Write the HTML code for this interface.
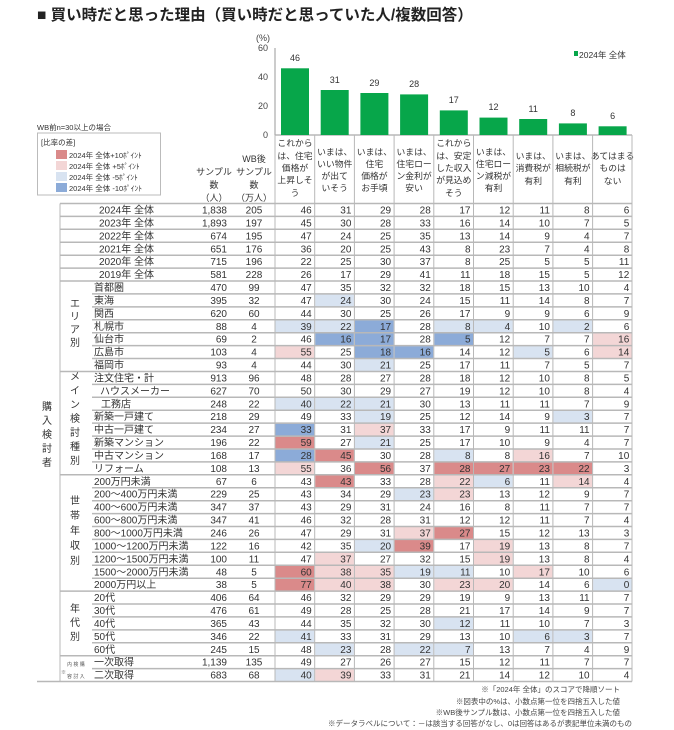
<!DOCTYPE html>
<html><head><meta charset="utf-8"><style>
html,body{margin:0;padding:0;background:#fff;}
svg{display:block;font-family:"Liberation Sans","Noto Sans CJK JP",sans-serif;}
</style></head><body>
<svg width="674" height="730" viewBox="0 0 674 730" xmlns="http://www.w3.org/2000/svg">
<text x="37" y="20" font-size="15.5" font-weight="bold" fill="#222">■ 買い時だと思った理由（買い時だと思っていた人/複数回答）</text>

<!-- axis -->
<g font-size="9" fill="#444" text-anchor="end">
<text x="270" y="41">(%)</text>
<text x="268" y="51">60</text>
<text x="268" y="80">40</text>
<text x="268" y="109">20</text>
<text x="268" y="138">0</text>
</g>
<line x1="275" y1="48" x2="275" y2="135" stroke="#999" stroke-width="1"/>
<line x1="275" y1="135" x2="632" y2="135" stroke="#aaa" stroke-width="1.2"/>
<rect x="574" y="51" width="4" height="5" fill="#07a64a"/>
<text x="579" y="58" font-size="8.5" fill="#333">2024年 全体</text>

<!-- bars -->
<g fill="#07a64a">
<rect x="281" y="68.3" width="28" height="66.7"/>
<rect x="320.7" y="90" width="28" height="45"/>
<rect x="360.4" y="93" width="28" height="42"/>
<rect x="400.1" y="94.4" width="28" height="40.6"/>
<rect x="439.8" y="110.4" width="28" height="24.6"/>
<rect x="479.5" y="117.6" width="28" height="17.4"/>
<rect x="519.2" y="119" width="28" height="16"/>
<rect x="558.9" y="123.4" width="28" height="11.6"/>
<rect x="598.6" y="126.3" width="28" height="8.7"/>
</g>
<g font-size="9" fill="#333" text-anchor="middle">
<text x="295" y="61">46</text><text x="334.7" y="83">31</text><text x="374.4" y="86">29</text>
<text x="414.1" y="87">28</text><text x="453.8" y="103">17</text><text x="493.5" y="110">12</text>
<text x="533.2" y="112">11</text><text x="572.9" y="116">8</text><text x="612.6" y="119">6</text>
</g>

<!-- legend box -->
<text x="37" y="130" font-size="7.5" fill="#333">WB前n=30以上の場合</text>
<rect x="37.5" y="133" width="123" height="62" fill="#fff" stroke="#bbb" stroke-width="1"/>
<g font-size="7.5" fill="#333">
<text x="41" y="145">[比率の差]</text>
<rect x="56" y="150" width="11" height="9" fill="#da8a8a"/><text x="69" y="158">2024年 全体+10ﾎﾟｲﾝﾄ</text>
<rect x="56" y="161" width="11" height="9" fill="#f3d6d6"/><text x="69" y="169">2024年 全体 +5ﾎﾟｲﾝﾄ</text>
<rect x="56" y="172" width="11" height="9" fill="#d8e3f1"/><text x="69" y="180">2024年 全体 -5ﾎﾟｲﾝﾄ</text>
<rect x="56" y="183" width="11" height="9" fill="#8cabd8"/><text x="69" y="191">2024年 全体 -10ﾎﾟｲﾝﾄ</text>
</g>

<!-- header labels -->
<g font-size="9" fill="#333" text-anchor="middle">
<text x="214" y="175">サンプル</text><text x="214" y="188">数</text><text x="214" y="201">（人）</text>
<text x="254" y="162">WB後</text><text x="254" y="175">サンプル</text><text x="254" y="188">数</text><text x="254" y="201">（万人）</text>
<g font-size="8.8">
<text x="295" y="146">これから</text><text x="295" y="159">は、住宅</text><text x="295" y="171">価格が</text><text x="295" y="183">上昇しそ</text><text x="295" y="196">う</text>
<text x="334.7" y="155">いまは、</text><text x="334.7" y="167">いい物件</text><text x="334.7" y="179">が出て</text><text x="334.7" y="191">いそう</text>
<text x="374.4" y="155">いまは、</text><text x="374.4" y="167">住宅</text><text x="374.4" y="179">価格が</text><text x="374.4" y="191">お手頃</text>
<text x="414.1" y="155">いまは、</text><text x="414.1" y="167">住宅ロー</text><text x="414.1" y="179">ン金利が</text><text x="414.1" y="191">安い</text>
<text x="453.8" y="146">これから</text><text x="453.8" y="159">は、安定</text><text x="453.8" y="171">した収入</text><text x="453.8" y="183">が見込め</text><text x="453.8" y="196">そう</text>
<text x="493.5" y="155">いまは、</text><text x="493.5" y="167">住宅ロー</text><text x="493.5" y="179">ン減税が</text><text x="493.5" y="191">有利</text>
<text x="533.2" y="159">いまは、</text><text x="533.2" y="171">消費税が</text><text x="533.2" y="184">有利</text>
<text x="572.9" y="159">いまは、</text><text x="572.9" y="171">相続税が</text><text x="572.9" y="184">有利</text>
<text x="612.6" y="159">あてはまる</text><text x="612.6" y="171">ものは</text><text x="612.6" y="184">ない</text>
</g>
</g>

<!-- color cells -->
<g>
<rect x="315.2" y="294.4" width="38.7" height="12.9" fill="#d8e3f1"/>
<rect x="275.5" y="320.3" width="38.7" height="12.9" fill="#d8e3f1"/>
<rect x="315.2" y="320.3" width="38.7" height="12.9" fill="#d8e3f1"/>
<rect x="354.9" y="320.3" width="38.7" height="12.9" fill="#8cabd8"/>
<rect x="434.3" y="320.3" width="38.7" height="12.9" fill="#d8e3f1"/>
<rect x="474" y="320.3" width="38.7" height="12.9" fill="#d8e3f1"/>
<rect x="553.4" y="320.3" width="38.7" height="12.9" fill="#d8e3f1"/>
<rect x="315.2" y="333.2" width="38.7" height="12.9" fill="#8cabd8"/>
<rect x="354.9" y="333.2" width="38.7" height="12.9" fill="#8cabd8"/>
<rect x="434.3" y="333.2" width="38.7" height="12.9" fill="#8cabd8"/>
<rect x="593.1" y="333.2" width="38.7" height="12.9" fill="#f3d6d6"/>
<rect x="275.5" y="346.1" width="38.7" height="12.9" fill="#f3d6d6"/>
<rect x="354.9" y="346.1" width="38.7" height="12.9" fill="#8cabd8"/>
<rect x="394.6" y="346.1" width="38.7" height="12.9" fill="#8cabd8"/>
<rect x="513.7" y="346.1" width="38.7" height="12.9" fill="#d8e3f1"/>
<rect x="593.1" y="346.1" width="38.7" height="12.9" fill="#f3d6d6"/>
<rect x="354.9" y="359" width="38.7" height="12.9" fill="#d8e3f1"/>
<rect x="275.5" y="397.8" width="38.7" height="12.9" fill="#d8e3f1"/>
<rect x="315.2" y="397.8" width="38.7" height="12.9" fill="#d8e3f1"/>
<rect x="354.9" y="397.8" width="38.7" height="12.9" fill="#d8e3f1"/>
<rect x="354.9" y="410.7" width="38.7" height="12.9" fill="#d8e3f1"/>
<rect x="553.4" y="410.7" width="38.7" height="12.9" fill="#d8e3f1"/>
<rect x="275.5" y="423.6" width="38.7" height="12.9" fill="#8cabd8"/>
<rect x="354.9" y="423.6" width="38.7" height="12.9" fill="#f3d6d6"/>
<rect x="275.5" y="436.6" width="38.7" height="12.9" fill="#da8a8a"/>
<rect x="354.9" y="436.6" width="38.7" height="12.9" fill="#d8e3f1"/>
<rect x="275.5" y="449.5" width="38.7" height="12.9" fill="#8cabd8"/>
<rect x="315.2" y="449.5" width="38.7" height="12.9" fill="#da8a8a"/>
<rect x="434.3" y="449.5" width="38.7" height="12.9" fill="#d8e3f1"/>
<rect x="513.7" y="449.5" width="38.7" height="12.9" fill="#f3d6d6"/>
<rect x="275.5" y="462.4" width="38.7" height="12.9" fill="#f3d6d6"/>
<rect x="354.9" y="462.4" width="38.7" height="12.9" fill="#da8a8a"/>
<rect x="434.3" y="462.4" width="38.7" height="12.9" fill="#da8a8a"/>
<rect x="474" y="462.4" width="38.7" height="12.9" fill="#da8a8a"/>
<rect x="513.7" y="462.4" width="38.7" height="12.9" fill="#da8a8a"/>
<rect x="553.4" y="462.4" width="38.7" height="12.9" fill="#da8a8a"/>
<rect x="315.2" y="475.3" width="38.7" height="12.9" fill="#da8a8a"/>
<rect x="434.3" y="475.3" width="38.7" height="12.9" fill="#f3d6d6"/>
<rect x="474" y="475.3" width="38.7" height="12.9" fill="#d8e3f1"/>
<rect x="553.4" y="475.3" width="38.7" height="12.9" fill="#f3d6d6"/>
<rect x="394.6" y="488.2" width="38.7" height="12.9" fill="#d8e3f1"/>
<rect x="434.3" y="488.2" width="38.7" height="12.9" fill="#f3d6d6"/>
<rect x="394.6" y="527" width="38.7" height="12.9" fill="#f3d6d6"/>
<rect x="434.3" y="527" width="38.7" height="12.9" fill="#da8a8a"/>
<rect x="354.9" y="539.9" width="38.7" height="12.9" fill="#d8e3f1"/>
<rect x="394.6" y="539.9" width="38.7" height="12.9" fill="#da8a8a"/>
<rect x="474" y="539.9" width="38.7" height="12.9" fill="#f3d6d6"/>
<rect x="315.2" y="552.8" width="38.7" height="12.9" fill="#f3d6d6"/>
<rect x="474" y="552.8" width="38.7" height="12.9" fill="#f3d6d6"/>
<rect x="275.5" y="565.8" width="38.7" height="12.9" fill="#da8a8a"/>
<rect x="315.2" y="565.8" width="38.7" height="12.9" fill="#f3d6d6"/>
<rect x="354.9" y="565.8" width="38.7" height="12.9" fill="#f3d6d6"/>
<rect x="394.6" y="565.8" width="38.7" height="12.9" fill="#d8e3f1"/>
<rect x="434.3" y="565.8" width="38.7" height="12.9" fill="#d8e3f1"/>
<rect x="513.7" y="565.8" width="38.7" height="12.9" fill="#f3d6d6"/>
<rect x="275.5" y="578.7" width="38.7" height="12.9" fill="#da8a8a"/>
<rect x="315.2" y="578.7" width="38.7" height="12.9" fill="#f3d6d6"/>
<rect x="354.9" y="578.7" width="38.7" height="12.9" fill="#f3d6d6"/>
<rect x="434.3" y="578.7" width="38.7" height="12.9" fill="#f3d6d6"/>
<rect x="474" y="578.7" width="38.7" height="12.9" fill="#f3d6d6"/>
<rect x="593.1" y="578.7" width="38.7" height="12.9" fill="#d8e3f1"/>
<rect x="434.3" y="617.4" width="38.7" height="12.9" fill="#d8e3f1"/>
<rect x="275.5" y="630.4" width="38.7" height="12.9" fill="#d8e3f1"/>
<rect x="513.7" y="630.4" width="38.7" height="12.9" fill="#d8e3f1"/>
<rect x="553.4" y="630.4" width="38.7" height="12.9" fill="#d8e3f1"/>
<rect x="315.2" y="643.3" width="38.7" height="12.9" fill="#d8e3f1"/>
<rect x="394.6" y="643.3" width="38.7" height="12.9" fill="#d8e3f1"/>
<rect x="434.3" y="643.3" width="38.7" height="12.9" fill="#d8e3f1"/>
<rect x="275.5" y="669.1" width="38.7" height="12.9" fill="#d8e3f1"/>
<rect x="315.2" y="669.1" width="38.7" height="12.9" fill="#f3d6d6"/>
</g>

<!-- grid lines -->
<g stroke="#b8b8b8" stroke-width="1.5">
<line x1="60" y1="203.5" x2="632" y2="203.5"/>
<line x1="60" y1="216.4" x2="632" y2="216.4"/>
<line x1="60" y1="229.3" x2="632" y2="229.3"/>
<line x1="60" y1="242.3" x2="632" y2="242.3"/>
<line x1="60" y1="255.2" x2="632" y2="255.2"/>
<line x1="60" y1="268.1" x2="632" y2="268.1"/>
<line x1="60" y1="281" x2="632" y2="281"/>
<line x1="92" y1="293.9" x2="632" y2="293.9"/>
<line x1="92" y1="306.9" x2="632" y2="306.9"/>
<line x1="92" y1="319.8" x2="632" y2="319.8"/>
<line x1="92" y1="332.7" x2="632" y2="332.7"/>
<line x1="92" y1="345.6" x2="632" y2="345.6"/>
<line x1="92" y1="358.5" x2="632" y2="358.5"/>
<line x1="60" y1="371.5" x2="632" y2="371.5"/>
<line x1="92" y1="384.4" x2="632" y2="384.4"/>
<line x1="92" y1="397.3" x2="632" y2="397.3"/>
<line x1="92" y1="410.2" x2="632" y2="410.2"/>
<line x1="92" y1="423.1" x2="632" y2="423.1"/>
<line x1="92" y1="436.1" x2="632" y2="436.1"/>
<line x1="92" y1="449" x2="632" y2="449"/>
<line x1="92" y1="461.9" x2="632" y2="461.9"/>
<line x1="60" y1="474.8" x2="632" y2="474.8"/>
<line x1="92" y1="487.7" x2="632" y2="487.7"/>
<line x1="92" y1="500.7" x2="632" y2="500.7"/>
<line x1="92" y1="513.6" x2="632" y2="513.6"/>
<line x1="92" y1="526.5" x2="632" y2="526.5"/>
<line x1="92" y1="539.4" x2="632" y2="539.4"/>
<line x1="92" y1="552.3" x2="632" y2="552.3"/>
<line x1="92" y1="565.3" x2="632" y2="565.3"/>
<line x1="92" y1="578.2" x2="632" y2="578.2"/>
<line x1="60" y1="591.1" x2="632" y2="591.1"/>
<line x1="92" y1="604" x2="632" y2="604"/>
<line x1="92" y1="616.9" x2="632" y2="616.9"/>
<line x1="92" y1="629.9" x2="632" y2="629.9"/>
<line x1="92" y1="642.8" x2="632" y2="642.8"/>
<line x1="60" y1="655.7" x2="632" y2="655.7"/>
<line x1="92" y1="668.6" x2="632" y2="668.6"/>
<line x1="37" y1="681.5" x2="632" y2="681.5"/>
</g>
<g stroke="#b8b8b8" stroke-width="1">
<line x1="60" y1="203.5" x2="60" y2="681.5"/>
<line x1="275" y1="135" x2="275" y2="681.5"/>
<line x1="314.7" y1="135" x2="314.7" y2="681.5"/>
<line x1="354.4" y1="135" x2="354.4" y2="681.5"/>
<line x1="394.1" y1="135" x2="394.1" y2="681.5"/>
<line x1="433.8" y1="135" x2="433.8" y2="681.5"/>
<line x1="473.5" y1="135" x2="473.5" y2="681.5"/>
<line x1="513.2" y1="135" x2="513.2" y2="681.5"/>
<line x1="552.9" y1="135" x2="552.9" y2="681.5"/>
<line x1="592.6" y1="135" x2="592.6" y2="681.5"/>
<line x1="632" y1="135" x2="632" y2="681.5"/>
</g>

<!-- group labels -->
<g font-size="10" fill="#333" text-anchor="middle">
<text x="75" y="307">エ</text><text x="75" y="320">リ</text><text x="75" y="333">ア</text><text x="75" y="346">別</text>
<text x="75" y="380">メ</text><text x="75" y="394">イ</text><text x="75" y="408">ン</text><text x="75" y="422">検</text><text x="75" y="436">討</text><text x="75" y="450">種</text><text x="75" y="464">別</text>
<text x="47" y="410">購</text><text x="47" y="424">入</text><text x="47" y="438">検</text><text x="47" y="452">討</text><text x="47" y="466">者</text>
<text x="75" y="504">世</text><text x="75" y="519">帯</text><text x="75" y="534">年</text><text x="75" y="549">収</text><text x="75" y="564">別</text>
<text x="75" y="612">年</text><text x="75" y="626">代</text><text x="75" y="640">別</text>
</g>
<g font-size="5" fill="#555">
<text x="61" y="674">※</text>
<text x="67" y="666">内 検 購</text><text x="67" y="678">容 討 入</text>
</g>

<!-- rows -->
<g font-size="10" fill="#333">
<g>
<text x="99" y="213.5">2024年 全体</text>
<text x="99" y="226.4">2023年 全体</text>
<text x="99" y="239.3">2022年 全体</text>
<text x="99" y="252.3">2021年 全体</text>
<text x="99" y="265.2">2020年 全体</text>
<text x="99" y="278.1">2019年 全体</text>
<text x="94" y="291">首都圏</text>
<text x="94" y="303.9">東海</text>
<text x="94" y="316.9">関西</text>
<text x="94" y="329.8">札幌市</text>
<text x="94" y="342.7">仙台市</text>
<text x="94" y="355.6">広島市</text>
<text x="94" y="368.5">福岡市</text>
<text x="94" y="381.5">注文住宅・計</text>
<text x="100" y="394.4">ハウスメーカー</text>
<text x="101" y="407.3">工務店</text>
<text x="94" y="420.2">新築一戸建て</text>
<text x="94" y="433.1">中古一戸建て</text>
<text x="94" y="446.1">新築マンション</text>
<text x="94" y="459">中古マンション</text>
<text x="94" y="471.9">リフォーム</text>
<text x="94" y="484.8">200万円未満</text>
<text x="94" y="497.7">200～400万円未満</text>
<text x="94" y="510.7">400～600万円未満</text>
<text x="94" y="523.6">600～800万円未満</text>
<text x="94" y="536.5">800～1000万円未満</text>
<text x="94" y="549.4">1000～1200万円未満</text>
<text x="94" y="562.3">1200～1500万円未満</text>
<text x="94" y="575.3">1500～2000万円未満</text>
<text x="94" y="588.2">2000万円以上</text>
<text x="94" y="601.1">20代</text>
<text x="94" y="614">30代</text>
<text x="94" y="626.9">40代</text>
<text x="94" y="639.9">50代</text>
<text x="94" y="652.8">60代</text>
<text x="94" y="665.7">一次取得</text>
<text x="94" y="678.6">二次取得</text>
</g>
<g text-anchor="end">
<text x="227" y="213.5">1,838</text><text x="227" y="226.4">1,893</text><text x="227" y="239.3">674</text><text x="227" y="252.3">651</text><text x="227" y="265.2">715</text><text x="227" y="278.1">581</text>
<text x="227" y="291">470</text><text x="227" y="303.9">395</text><text x="227" y="316.9">620</text><text x="227" y="329.8">88</text><text x="227" y="342.7">69</text><text x="227" y="355.6">103</text><text x="227" y="368.5">93</text>
<text x="227" y="381.5">913</text><text x="227" y="394.4">627</text><text x="227" y="407.3">248</text><text x="227" y="420.2">218</text><text x="227" y="433.1">234</text><text x="227" y="446.1">196</text><text x="227" y="459">168</text><text x="227" y="471.9">108</text>
<text x="227" y="484.8">67</text><text x="227" y="497.7">229</text><text x="227" y="510.7">347</text><text x="227" y="523.6">347</text><text x="227" y="536.5">246</text><text x="227" y="549.4">122</text><text x="227" y="562.3">100</text><text x="227" y="575.3">48</text><text x="227" y="588.2">38</text>
<text x="227" y="601.1">406</text><text x="227" y="614">476</text><text x="227" y="626.9">365</text><text x="227" y="639.9">346</text><text x="227" y="652.8">245</text>
<text x="227" y="665.7">1,139</text><text x="227" y="678.6">683</text>
</g>
<g text-anchor="middle">
<text x="254" y="213.5">205</text><text x="254" y="226.4">197</text><text x="254" y="239.3">195</text><text x="254" y="252.3">176</text><text x="254" y="265.2">196</text><text x="254" y="278.1">228</text>
<text x="254" y="291">99</text><text x="254" y="303.9">32</text><text x="254" y="316.9">60</text><text x="254" y="329.8">4</text><text x="254" y="342.7">2</text><text x="254" y="355.6">4</text><text x="254" y="368.5">4</text>
<text x="254" y="381.5">96</text><text x="254" y="394.4">70</text><text x="254" y="407.3">22</text><text x="254" y="420.2">29</text><text x="254" y="433.1">27</text><text x="254" y="446.1">22</text><text x="254" y="459">17</text><text x="254" y="471.9">13</text>
<text x="254" y="484.8">6</text><text x="254" y="497.7">25</text><text x="254" y="510.7">37</text><text x="254" y="523.6">41</text><text x="254" y="536.5">26</text><text x="254" y="549.4">16</text><text x="254" y="562.3">11</text><text x="254" y="575.3">5</text><text x="254" y="588.2">5</text>
<text x="254" y="601.1">64</text><text x="254" y="614">61</text><text x="254" y="626.9">43</text><text x="254" y="639.9">22</text><text x="254" y="652.8">15</text>
<text x="254" y="665.7">135</text><text x="254" y="678.6">68</text>
</g>
<g text-anchor="end">
<text y="213.5"><tspan x="311.7">46</tspan><tspan x="351.4">31</tspan><tspan x="391.1">29</tspan><tspan x="430.8">28</tspan><tspan x="470.5">17</tspan><tspan x="510.2">12</tspan><tspan x="549.9">11</tspan><tspan x="589.6">8</tspan><tspan x="629.3">6</tspan></text>
<text y="226.4"><tspan x="311.7">45</tspan><tspan x="351.4">30</tspan><tspan x="391.1">28</tspan><tspan x="430.8">33</tspan><tspan x="470.5">16</tspan><tspan x="510.2">14</tspan><tspan x="549.9">10</tspan><tspan x="589.6">7</tspan><tspan x="629.3">5</tspan></text>
<text y="239.3"><tspan x="311.7">47</tspan><tspan x="351.4">24</tspan><tspan x="391.1">25</tspan><tspan x="430.8">35</tspan><tspan x="470.5">13</tspan><tspan x="510.2">14</tspan><tspan x="549.9">9</tspan><tspan x="589.6">4</tspan><tspan x="629.3">7</tspan></text>
<text y="252.3"><tspan x="311.7">36</tspan><tspan x="351.4">20</tspan><tspan x="391.1">25</tspan><tspan x="430.8">43</tspan><tspan x="470.5">8</tspan><tspan x="510.2">23</tspan><tspan x="549.9">7</tspan><tspan x="589.6">4</tspan><tspan x="629.3">8</tspan></text>
<text y="265.2"><tspan x="311.7">22</tspan><tspan x="351.4">25</tspan><tspan x="391.1">30</tspan><tspan x="430.8">37</tspan><tspan x="470.5">8</tspan><tspan x="510.2">25</tspan><tspan x="549.9">5</tspan><tspan x="589.6">5</tspan><tspan x="629.3">11</tspan></text>
<text y="278.1"><tspan x="311.7">26</tspan><tspan x="351.4">17</tspan><tspan x="391.1">29</tspan><tspan x="430.8">41</tspan><tspan x="470.5">11</tspan><tspan x="510.2">18</tspan><tspan x="549.9">15</tspan><tspan x="589.6">5</tspan><tspan x="629.3">12</tspan></text>
<text y="291"><tspan x="311.7">47</tspan><tspan x="351.4">35</tspan><tspan x="391.1">32</tspan><tspan x="430.8">32</tspan><tspan x="470.5">18</tspan><tspan x="510.2">15</tspan><tspan x="549.9">13</tspan><tspan x="589.6">10</tspan><tspan x="629.3">4</tspan></text>
<text y="303.9"><tspan x="311.7">47</tspan><tspan x="351.4">24</tspan><tspan x="391.1">30</tspan><tspan x="430.8">24</tspan><tspan x="470.5">15</tspan><tspan x="510.2">11</tspan><tspan x="549.9">14</tspan><tspan x="589.6">8</tspan><tspan x="629.3">7</tspan></text>
<text y="316.9"><tspan x="311.7">44</tspan><tspan x="351.4">30</tspan><tspan x="391.1">25</tspan><tspan x="430.8">26</tspan><tspan x="470.5">17</tspan><tspan x="510.2">9</tspan><tspan x="549.9">9</tspan><tspan x="589.6">6</tspan><tspan x="629.3">9</tspan></text>
<text y="329.8"><tspan x="311.7">39</tspan><tspan x="351.4">22</tspan><tspan x="391.1">17</tspan><tspan x="430.8">28</tspan><tspan x="470.5">8</tspan><tspan x="510.2">4</tspan><tspan x="549.9">10</tspan><tspan x="589.6">2</tspan><tspan x="629.3">6</tspan></text>
<text y="342.7"><tspan x="311.7">46</tspan><tspan x="351.4">16</tspan><tspan x="391.1">17</tspan><tspan x="430.8">28</tspan><tspan x="470.5">5</tspan><tspan x="510.2">12</tspan><tspan x="549.9">7</tspan><tspan x="589.6">7</tspan><tspan x="629.3">16</tspan></text>
<text y="355.6"><tspan x="311.7">55</tspan><tspan x="351.4">25</tspan><tspan x="391.1">18</tspan><tspan x="430.8">16</tspan><tspan x="470.5">14</tspan><tspan x="510.2">12</tspan><tspan x="549.9">5</tspan><tspan x="589.6">6</tspan><tspan x="629.3">14</tspan></text>
<text y="368.5"><tspan x="311.7">44</tspan><tspan x="351.4">30</tspan><tspan x="391.1">21</tspan><tspan x="430.8">25</tspan><tspan x="470.5">17</tspan><tspan x="510.2">11</tspan><tspan x="549.9">7</tspan><tspan x="589.6">5</tspan><tspan x="629.3">7</tspan></text>
<text y="381.5"><tspan x="311.7">48</tspan><tspan x="351.4">28</tspan><tspan x="391.1">27</tspan><tspan x="430.8">28</tspan><tspan x="470.5">18</tspan><tspan x="510.2">12</tspan><tspan x="549.9">10</tspan><tspan x="589.6">8</tspan><tspan x="629.3">5</tspan></text>
<text y="394.4"><tspan x="311.7">50</tspan><tspan x="351.4">30</tspan><tspan x="391.1">29</tspan><tspan x="430.8">27</tspan><tspan x="470.5">19</tspan><tspan x="510.2">12</tspan><tspan x="549.9">10</tspan><tspan x="589.6">8</tspan><tspan x="629.3">4</tspan></text>
<text y="407.3"><tspan x="311.7">40</tspan><tspan x="351.4">22</tspan><tspan x="391.1">21</tspan><tspan x="430.8">30</tspan><tspan x="470.5">13</tspan><tspan x="510.2">11</tspan><tspan x="549.9">11</tspan><tspan x="589.6">7</tspan><tspan x="629.3">9</tspan></text>
<text y="420.2"><tspan x="311.7">49</tspan><tspan x="351.4">33</tspan><tspan x="391.1">19</tspan><tspan x="430.8">25</tspan><tspan x="470.5">12</tspan><tspan x="510.2">14</tspan><tspan x="549.9">9</tspan><tspan x="589.6">3</tspan><tspan x="629.3">7</tspan></text>
<text y="433.1"><tspan x="311.7">33</tspan><tspan x="351.4">31</tspan><tspan x="391.1">37</tspan><tspan x="430.8">33</tspan><tspan x="470.5">17</tspan><tspan x="510.2">9</tspan><tspan x="549.9">11</tspan><tspan x="589.6">11</tspan><tspan x="629.3">7</tspan></text>
<text y="446.1"><tspan x="311.7">59</tspan><tspan x="351.4">27</tspan><tspan x="391.1">21</tspan><tspan x="430.8">25</tspan><tspan x="470.5">17</tspan><tspan x="510.2">10</tspan><tspan x="549.9">9</tspan><tspan x="589.6">4</tspan><tspan x="629.3">7</tspan></text>
<text y="459"><tspan x="311.7">28</tspan><tspan x="351.4">45</tspan><tspan x="391.1">30</tspan><tspan x="430.8">28</tspan><tspan x="470.5">8</tspan><tspan x="510.2">8</tspan><tspan x="549.9">16</tspan><tspan x="589.6">7</tspan><tspan x="629.3">10</tspan></text>
<text y="471.9"><tspan x="311.7">55</tspan><tspan x="351.4">36</tspan><tspan x="391.1">56</tspan><tspan x="430.8">37</tspan><tspan x="470.5">28</tspan><tspan x="510.2">27</tspan><tspan x="549.9">23</tspan><tspan x="589.6">22</tspan><tspan x="629.3">3</tspan></text>
<text y="484.8"><tspan x="311.7">43</tspan><tspan x="351.4">43</tspan><tspan x="391.1">33</tspan><tspan x="430.8">28</tspan><tspan x="470.5">22</tspan><tspan x="510.2">6</tspan><tspan x="549.9">11</tspan><tspan x="589.6">14</tspan><tspan x="629.3">4</tspan></text>
<text y="497.7"><tspan x="311.7">43</tspan><tspan x="351.4">34</tspan><tspan x="391.1">29</tspan><tspan x="430.8">23</tspan><tspan x="470.5">23</tspan><tspan x="510.2">13</tspan><tspan x="549.9">12</tspan><tspan x="589.6">9</tspan><tspan x="629.3">7</tspan></text>
<text y="510.7"><tspan x="311.7">43</tspan><tspan x="351.4">29</tspan><tspan x="391.1">31</tspan><tspan x="430.8">24</tspan><tspan x="470.5">16</tspan><tspan x="510.2">8</tspan><tspan x="549.9">11</tspan><tspan x="589.6">7</tspan><tspan x="629.3">7</tspan></text>
<text y="523.6"><tspan x="311.7">46</tspan><tspan x="351.4">32</tspan><tspan x="391.1">28</tspan><tspan x="430.8">31</tspan><tspan x="470.5">12</tspan><tspan x="510.2">12</tspan><tspan x="549.9">11</tspan><tspan x="589.6">7</tspan><tspan x="629.3">4</tspan></text>
<text y="536.5"><tspan x="311.7">47</tspan><tspan x="351.4">29</tspan><tspan x="391.1">31</tspan><tspan x="430.8">37</tspan><tspan x="470.5">27</tspan><tspan x="510.2">15</tspan><tspan x="549.9">12</tspan><tspan x="589.6">13</tspan><tspan x="629.3">3</tspan></text>
<text y="549.4"><tspan x="311.7">42</tspan><tspan x="351.4">35</tspan><tspan x="391.1">20</tspan><tspan x="430.8">39</tspan><tspan x="470.5">17</tspan><tspan x="510.2">19</tspan><tspan x="549.9">13</tspan><tspan x="589.6">8</tspan><tspan x="629.3">7</tspan></text>
<text y="562.3"><tspan x="311.7">47</tspan><tspan x="351.4">37</tspan><tspan x="391.1">27</tspan><tspan x="430.8">32</tspan><tspan x="470.5">15</tspan><tspan x="510.2">19</tspan><tspan x="549.9">13</tspan><tspan x="589.6">8</tspan><tspan x="629.3">4</tspan></text>
<text y="575.3"><tspan x="311.7">60</tspan><tspan x="351.4">38</tspan><tspan x="391.1">35</tspan><tspan x="430.8">19</tspan><tspan x="470.5">11</tspan><tspan x="510.2">10</tspan><tspan x="549.9">17</tspan><tspan x="589.6">10</tspan><tspan x="629.3">6</tspan></text>
<text y="588.2"><tspan x="311.7">77</tspan><tspan x="351.4">40</tspan><tspan x="391.1">38</tspan><tspan x="430.8">30</tspan><tspan x="470.5">23</tspan><tspan x="510.2">20</tspan><tspan x="549.9">14</tspan><tspan x="589.6">6</tspan><tspan x="629.3">0</tspan></text>
<text y="601.1"><tspan x="311.7">46</tspan><tspan x="351.4">32</tspan><tspan x="391.1">29</tspan><tspan x="430.8">29</tspan><tspan x="470.5">19</tspan><tspan x="510.2">9</tspan><tspan x="549.9">13</tspan><tspan x="589.6">11</tspan><tspan x="629.3">7</tspan></text>
<text y="614"><tspan x="311.7">49</tspan><tspan x="351.4">28</tspan><tspan x="391.1">25</tspan><tspan x="430.8">28</tspan><tspan x="470.5">21</tspan><tspan x="510.2">17</tspan><tspan x="549.9">14</tspan><tspan x="589.6">9</tspan><tspan x="629.3">7</tspan></text>
<text y="626.9"><tspan x="311.7">44</tspan><tspan x="351.4">35</tspan><tspan x="391.1">32</tspan><tspan x="430.8">30</tspan><tspan x="470.5">12</tspan><tspan x="510.2">11</tspan><tspan x="549.9">10</tspan><tspan x="589.6">7</tspan><tspan x="629.3">3</tspan></text>
<text y="639.9"><tspan x="311.7">41</tspan><tspan x="351.4">33</tspan><tspan x="391.1">31</tspan><tspan x="430.8">29</tspan><tspan x="470.5">13</tspan><tspan x="510.2">10</tspan><tspan x="549.9">6</tspan><tspan x="589.6">3</tspan><tspan x="629.3">7</tspan></text>
<text y="652.8"><tspan x="311.7">48</tspan><tspan x="351.4">23</tspan><tspan x="391.1">28</tspan><tspan x="430.8">22</tspan><tspan x="470.5">7</tspan><tspan x="510.2">13</tspan><tspan x="549.9">7</tspan><tspan x="589.6">4</tspan><tspan x="629.3">9</tspan></text>
<text y="665.7"><tspan x="311.7">49</tspan><tspan x="351.4">27</tspan><tspan x="391.1">26</tspan><tspan x="430.8">27</tspan><tspan x="470.5">15</tspan><tspan x="510.2">12</tspan><tspan x="549.9">11</tspan><tspan x="589.6">7</tspan><tspan x="629.3">7</tspan></text>
<text y="678.6"><tspan x="311.7">40</tspan><tspan x="351.4">39</tspan><tspan x="391.1">33</tspan><tspan x="430.8">31</tspan><tspan x="470.5">21</tspan><tspan x="510.2">14</tspan><tspan x="549.9">12</tspan><tspan x="589.6">10</tspan><tspan x="629.3">4</tspan></text>
</g>
</g>

<!-- footnotes -->
<g font-size="7.5" fill="#444" text-anchor="end">
<text x="620" y="692">※「2024年 全体」のスコアで降順ソート</text>
<text x="620" y="704">※図表中の%は、小数点第一位を四捨五入した値</text>
<text x="620" y="715">※WB後サンプル数は、小数点第一位を四捨五入した値</text>
<text x="632" y="726">※データラベルについて：－は該当する回答がなし、0は回答はあるが表記単位未満のもの</text>
</g>
</svg>
</body></html>
